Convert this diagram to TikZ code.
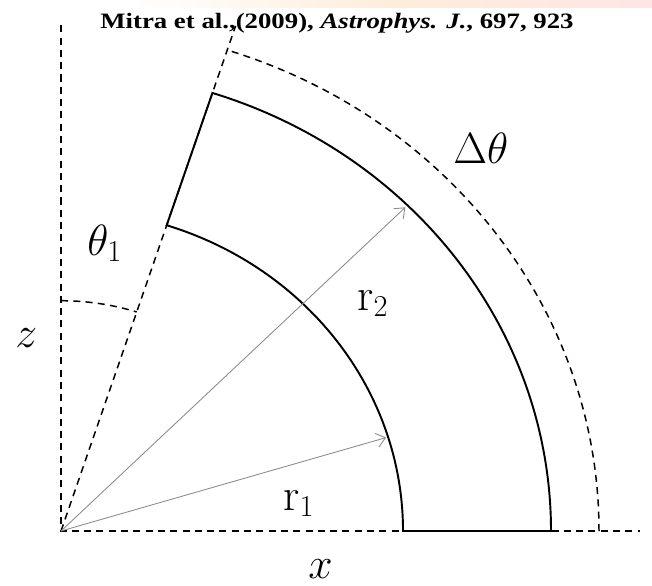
\documentclass[tikz,border=0pt]{standalone}
\usepackage{fontspec}
\newfontfamily\citefont[FakeStretch=1.22]{Liberation Serif}
\usetikzlibrary{arrows.meta}
\pgfdeclarehorizontalshading{band}{100bp}{color(0bp)=(white); color(35bp)=(white); color(55bp)=(orange!14); color(75bp)=(red!10); color(100bp)=(blue!7)}
\tikzset{guide/.style={dash pattern=on 4pt off 3pt, line width=0.85pt},
  rim/.style={line width=1.1pt},
  ray/.style={-{Straight Barb[length=5pt,width=8pt]}, black!45, line width=0.5pt},
  sym/.style={inner sep=0pt, font=\fontsize{26}{30}\selectfont}}

\begin{document}
\begin{tikzpicture}[x=0.02cm, y=0.02cm, yscale=0.94]
  \useasboundingbox (-61,-57.45) rectangle (591,564.9);
  \shade[shading=band] (-61,556.4) rectangle (591,564.9);
  % axes and guide lines
  \coordinate (O) at (0,0);
  \coordinate (zTop) at (90:538);
  \coordinate (tTop) at (72:565);
  \coordinate (xEnd) at (579,0);
  \draw[guide] (zTop) -- (O) -- (xEnd);
  \draw[guide] (O) -- (tTop);
  \draw[guide] (90:245) arc[start angle=90, end angle=72, radius=245];
  \draw[guide] (538,0) arc[start angle=0, end angle=72, radius=538];
  % the shell
  \draw[rim] (72:342) arc[start angle=72, end angle=0, radius=342] -- (490,0)
    arc[start angle=0, end angle=72, radius=490] -- cycle;
  % radii
  \coordinate (r1End) at (17:340);
  \coordinate (r2End) at (45:487);
  \draw[ray] (O) -- (r1End);
  \draw[ray] (O) -- (r2End);
  % labels
  \node[sym, anchor=base west] (r1Lbl) at (222,22.3) {$\mathrm{r}_1$};
  \node[sym, anchor=base west] (r2Lbl) at (296,235) {$\mathrm{r}_2$};
  \node[sym, anchor=base west] (thLbl) at (26,293.6) {$\theta_1$};
  \node[sym, anchor=base west] (dthLbl) at (392,391.5) {$\Delta\theta$};
  \node[sym, anchor=base west] (xLbl) at (247,-50) {$x$};
  \node[sym, anchor=base west] (zLbl) at (-46,195.7) {$z$};
  \node[font=\citefont\bfseries\fontsize{12.5}{14}\selectfont, anchor=base] (cite) at (276,535)
    {Mitra et al.,(2009), \textit{Astrophys. J.}, 697, 923};
\end{tikzpicture}
\end{document}
